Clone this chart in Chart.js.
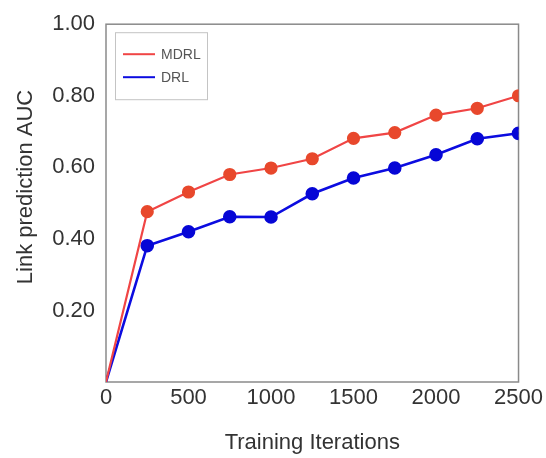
<!DOCTYPE html>
<html>
<head>
<meta charset="utf-8">
<script src="https://cdn.jsdelivr.net/npm/chart.js@4/dist/chart.umd.min.js"></script>
<style>
  html, body { margin: 0; padding: 0; background: #ffffff; }
  #wrap { width: 546px; height: 458px; position: relative; }
</style>
</head>
<body>
<div id="wrap"><canvas id="c" width="546" height="458"></canvas></div>
<script>
const iterations = [0, 250, 500, 750, 1000, 1250, 1500, 1750, 2000, 2250, 2500];
const mdrlAUC = [0, 0.476, 0.531, 0.580, 0.598, 0.624, 0.681, 0.697, 0.746, 0.765, 0.800];
const drlAUC  = [0, 0.381, 0.420, 0.462, 0.461, 0.526, 0.570, 0.598, 0.635, 0.680, 0.695];
const seriesNames = ['MDRL', 'DRL'];
const xTicks = [0, 500, 1000, 1500, 2000, 2500];
const yTicks = [0.2, 0.4, 0.6, 0.8, 1.0];
const xTitle = 'Training Iterations';
const yTitle = 'Link prediction AUC';

const FONT = "'Liberation Sans', Arial, sans-serif";

const frameAndLegend = {
  id: 'frameAndLegend',
  beforeDatasetsDraw(chart) {
    const {ctx, chartArea: a} = chart;
    ctx.save();
    ctx.strokeStyle = '#8a8a8a';
    ctx.lineWidth = 1.5;
    ctx.strokeRect(a.left, a.top, a.right - a.left, a.bottom - a.top);
    ctx.restore();
  },
  afterDraw(chart) {
    const {ctx, chartArea: a} = chart;
    // y-axis title
    ctx.save();
    ctx.translate(26, 187);
    ctx.rotate(-Math.PI / 2);
    ctx.font = '22px ' + FONT;
    ctx.fillStyle = '#333333';
    ctx.textAlign = 'center';
    ctx.textBaseline = 'middle';
    ctx.fillText(yTitle, 0, 0);
    ctx.restore();
  },
  afterDatasetsDraw(chart) {
    const {ctx, chartArea: a} = chart;
    const bx = a.left + 9, by = a.top + 8, bw = 92, bh = 67;
    ctx.save();
    ctx.fillStyle = '#ffffff';
    ctx.fillRect(bx, by, bw, bh);
    ctx.strokeStyle = '#c4c4c4';
    ctx.lineWidth = 1;
    ctx.strokeRect(bx + 0.5, by + 0.5, bw, bh);
    ctx.font = '14px ' + FONT;
    ctx.textBaseline = 'middle';
    ctx.textAlign = 'left';
    chart.data.datasets.forEach((ds, i) => {
      const y = by + 22 + i * 23;
      ctx.strokeStyle = ds.borderColor;
      ctx.lineWidth = 2;
      ctx.beginPath();
      ctx.moveTo(bx + 8, y);
      ctx.lineTo(bx + 40, y);
      ctx.stroke();
      ctx.fillStyle = '#555555';
      ctx.fillText(ds.label, bx + 46, y + 1);
    });
    ctx.restore();
  }
};

const toPoints = (ys) => iterations.map((x, i) => ({x: x, y: ys[i]}));
const radii = iterations.map((x) => (x === 0 ? 0 : 5.5));

new Chart(document.getElementById('c'), {
  type: 'line',
  data: {
    datasets: [
      {
        label: seriesNames[0],
        data: toPoints(mdrlAUC),
        borderColor: '#f04545',
        backgroundColor: '#e8482c',
        pointBackgroundColor: '#e8482c',
        pointBorderColor: '#e8482c',
        borderWidth: 2.2,
        pointRadius: radii,
        tension: 0
      },
      {
        label: seriesNames[1],
        data: toPoints(drlAUC),
        borderColor: '#0c0ce0',
        backgroundColor: '#0606d6',
        pointBackgroundColor: '#0606d6',
        pointBorderColor: '#0606d6',
        borderWidth: 2.6,
        pointRadius: radii,
        tension: 0
      }
    ]
  },
  options: {
    responsive: false,
    animation: false,
    layout: { padding: { left: 0, right: 27, top: 23, bottom: 0 } },
    plugins: { legend: { display: false }, tooltip: { enabled: false } },
    scales: {
      x: {
        type: 'linear',
        min: 0, max: 2500,
        afterBuildTicks: (s) => { s.ticks = xTicks.map(v => ({value: v})); },
        afterFit: (s) => { s.height = 76; },
        grid: { display: false, drawTicks: false },
        border: { display: false },
        ticks: {
          padding: 3,
          color: '#333333',
          font: { family: FONT, size: 22 },
          maxRotation: 0,
          callback: (v) => String(v)
        },
        title: {
          display: true,
          text: xTitle,
          color: '#333333',
          font: { family: FONT, size: 22 },
          padding: { top: 0, bottom: 2 }
        }
      },
      y: {
        min: 0, max: 1,
        afterBuildTicks: (s) => { s.ticks = yTicks.map(v => ({value: v})); },
        afterFit: (s) => { s.width = 106; },
        grid: { display: false, drawTicks: false },
        border: { display: false },
        ticks: {
          padding: 11,
          color: '#333333',
          font: { family: FONT, size: 22 },
          callback: (v) => Number(v).toFixed(2)
        },
        title: { display: false }
      }
    }
  },
  plugins: [frameAndLegend]
});
</script>
</body>
</html>
